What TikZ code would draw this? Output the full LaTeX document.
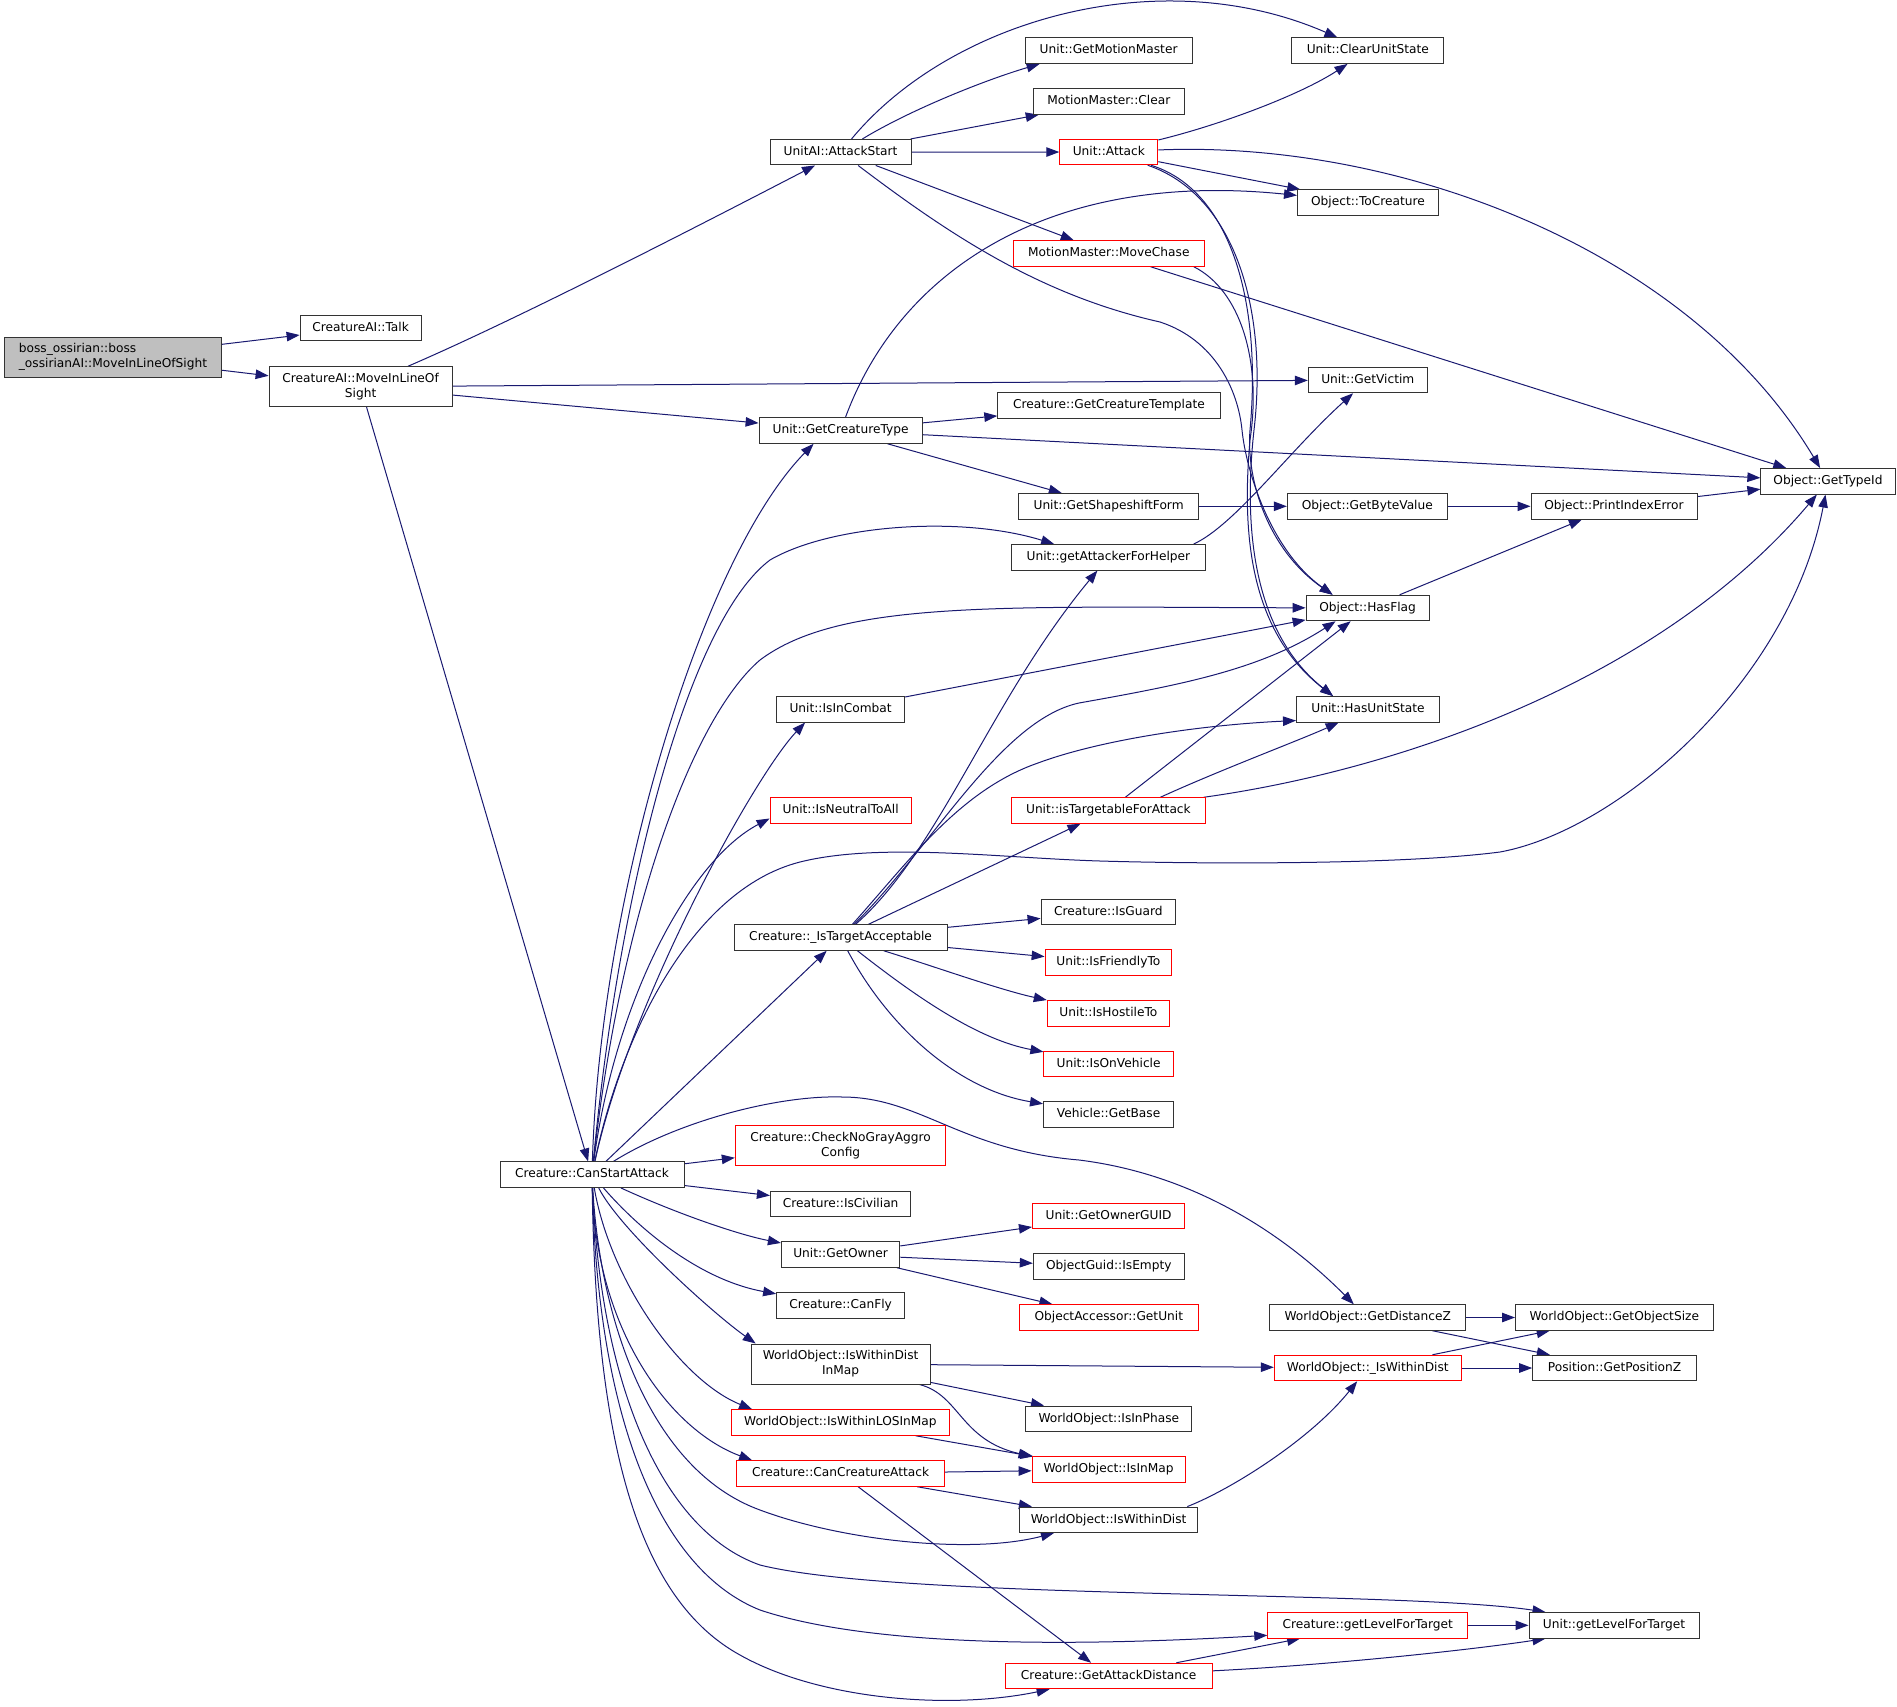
\documentclass[tikz,border=0pt]{standalone}
\usepackage{fontspec}
\setmainfont{DejaVu Sans}
\usetikzlibrary{arrows.meta,calc}
\definecolor{edgec}{HTML}{191970}
\definecolor{bordc}{HTML}{333333}
\definecolor{bossf}{HTML}{BFBFBF}
\pgfdeclarelayer{bg}
\pgfsetlayers{bg,main}
\begin{document}
\begin{tikzpicture}[x=1pt,y=-1pt,
  font=\fontsize{12.2}{15}\selectfont,
  fn/.style={draw=bordc, fill=white, line width=1pt, inner sep=0pt,
    minimum height=25.5pt, text height=9pt, text depth=2.5pt},
  rn/.style={fn, draw=red},
  fm/.style={draw=bordc, fill=white, line width=1pt, inner sep=0pt,
    minimum height=40pt, align=center},
  rm/.style={fm, draw=red},
  cge/.style={draw=edgec, line width=1pt, -{Triangle[length=13pt,width=9.5pt]}}]
\useasboundingbox (0,0) rectangle (1897,1707);

% nodes
\node[fm, fill=bossf, align=left, minimum width=216.3pt] (boss) at (113,357.3) {boss\_ossirian::boss\\\_ossirianAI::MoveInLineOfSight};
\node[fn, minimum width=121pt] (talk) at (360.6,327.8) {CreatureAI::Talk};
\node[fm, minimum width=183pt] (mlos) at (360.6,386.7) {CreatureAI::MoveInLineOf\\Sight};
\node[fn, minimum width=141pt] (uas) at (840.6,152.2) {UnitAI::AttackStart};
\node[fn, minimum width=167pt] (gmm) at (1108.6,50.7) {Unit::GetMotionMaster};
\node[fn, minimum width=151pt] (mmc) at (1108.8,101.5) {MotionMaster::Clear};
\node[rn, minimum width=98pt] (uatt) at (1108.8,152) {Unit::Attack};
\node[rn, minimum width=191pt] (mch) at (1108.8,253.5) {MotionMaster::MoveChase};
\node[fn, minimum width=222.4pt] (gct) at (1109,405.5) {Creature::GetCreatureTemplate};
\node[fn, minimum width=163pt] (gctype) at (840.6,430.5) {Unit::GetCreatureType};
\node[fn, minimum width=152pt] (cus) at (1367.8,50.7) {Unit::ClearUnitState};
\node[fn, minimum width=141pt] (toc) at (1368,202.7) {Object::ToCreature};
\node[fn, minimum width=119pt] (gvic) at (1367.8,380) {Unit::GetVictim};
\node[fn, minimum width=180pt] (gsf) at (1108.6,506.3) {Unit::GetShapeshiftForm};
\node[fn, minimum width=193.5pt] (gafh) at (1108.4,557.3) {Unit::getAttackerForHelper};
\node[fn, minimum width=128pt] (iic) at (840.6,709.3) {Unit::IsInCombat};
\node[rn, minimum width=141pt] (inta) at (840.6,810.5) {Unit::IsNeutralToAll};
\node[rn, minimum width=193.5pt] (itfa) at (1108.4,810.5) {Unit::isTargetableForAttack};
\node[fn, minimum width=134.3pt] (gtid) at (1828,481.3) {Object::GetTypeId};
\node[fn, minimum width=160pt] (gbv) at (1367.3,506.3) {Object::GetByteValue};
\node[fn, minimum width=166pt] (pie) at (1614,506.3) {Object::PrintIndexError};
\node[fn, minimum width=123pt] (hf) at (1367.6,608) {Object::HasFlag};
\node[fn, minimum width=143pt] (hus) at (1368,709.3) {Unit::HasUnitState};
\node[fn, minimum width=213pt] (ita) at (840.6,937.5) {Creature::\_IsTargetAcceptable};
\node[fn, minimum width=134.7pt] (ig) at (1108.4,912) {Creature::IsGuard};
\node[rn, minimum width=126.5pt] (ift) at (1108.4,962.5) {Unit::IsFriendlyTo};
\node[rn, minimum width=122.5pt] (iht) at (1108.4,1013.3) {Unit::IsHostileTo};
\node[rn, minimum width=129.4pt] (iov) at (1108.6,1064) {Unit::IsOnVehicle};
\node[fn, minimum width=130.2pt] (vgb) at (1108.6,1114.7) {Vehicle::GetBase};
\node[rm, minimum width=210.6pt] (cngac) at (840.6,1145.3) {Creature::CheckNoGrayAggro\\Config};
\node[fn, minimum width=184pt] (csa) at (592,1174.7) {Creature::CanStartAttack};
\node[fn, minimum width=140.4pt] (iciv) at (840.6,1203.8) {Creature::IsCivilian};
\node[fn, minimum width=118.4pt] (gown) at (840.6,1254.5) {Unit::GetOwner};
\node[rn, minimum width=152.3pt] (gog) at (1108.6,1216) {Unit::GetOwnerGUID};
\node[fn, minimum width=151pt] (ige) at (1108.8,1266.7) {ObjectGuid::IsEmpty};
\node[fn, minimum width=128pt] (cfly) at (840.6,1305.5) {Creature::CanFly};
\node[rn, minimum width=178.8pt] (oagu) at (1108.8,1317.5) {ObjectAccessor::GetUnit};
\node[fm, minimum width=178.8pt] (iwdim) at (840.6,1364) {WorldObject::IsWithinDist\\InMap};
\node[fn, minimum width=165.7pt] (iip) at (1108.8,1418.8) {WorldObject::IsInPhase};
\node[rn, minimum width=217.6pt] (iwlos) at (840.4,1422.5) {WorldObject::IsWithinLOSInMap};
\node[rn, minimum width=153pt] (iim) at (1108.6,1469.7) {WorldObject::IsInMap};
\node[rn, minimum width=208pt] (cca) at (840.6,1473.5) {Creature::CanCreatureAttack};
\node[fn, minimum width=178.4pt] (iwd) at (1108.6,1519.8) {WorldObject::IsWithinDist};
\node[rn, minimum width=207pt] (gad) at (1108.6,1676) {Creature::GetAttackDistance};
\node[fn, minimum width=196pt] (gdz) at (1367.8,1317.5) {WorldObject::GetDistanceZ};
\node[fn, minimum width=197.6pt] (gos) at (1614.3,1317.5) {WorldObject::GetObjectSize};
\node[rn, minimum width=187pt] (uiwd) at (1367.8,1368) {WorldObject::\_IsWithinDist};
\node[fn, minimum width=163.6pt] (gpz) at (1614.5,1368) {Position::GetPositionZ};
\node[rn, minimum width=200pt] (cglt) at (1367.8,1625.3) {Creature::getLevelForTarget};
\node[fn, minimum width=170pt] (uglt) at (1614,1625.3) {Unit::getLevelForTarget};

\begin{pgfonlayer}{bg}
\draw[cge] (boss) -- (talk);
\draw[cge] (boss) -- (mlos);
\draw[cge] (mlos) .. controls (520,318) and (700,225) .. (uas);
\draw[cge] (mlos) -- (gvic);
\draw[cge] (mlos) -- (gctype);
\draw[cge] (mlos) -- (csa);
% AttackStart
\draw[cge] (uas) .. controls (950,20) and (1160,-40) .. (cus);
\draw[cge] (uas) .. controls (910,110) and (985,80) .. ($(gmm.south west)+(15,0)$);
\draw[cge] (uas) -- (mmc);
\draw[cge] (uas) -- (uatt);
\draw[cge] (uas) -- (mch);
\draw[cge] (uas) .. controls (950,235) and (1040,295) .. (1160,322) .. controls (1215,340) and (1238,390) .. (1242,430) .. controls (1246,470) and (1270,550) .. ($(hf.north west)+(27,0)$);
% Attack
\draw[cge] (uatt) .. controls (1230,190) and (1262,300) .. (1250,430) .. controls (1246,480) and (1268,550) .. ($(hf.north west)+(27,0)$);
\draw[cge] (uatt) .. controls (1235,195) and (1268,310) .. (1254,430) .. controls (1244,520) and (1250,630) .. ($(hus.north west)+(37,0)$);
\draw[cge] (uatt) .. controls (1220,125) and (1300,95) .. (cus);
\draw[cge] (uatt) -- (toc);
\draw[cge] (uatt) .. controls (1400,140) and (1690,250) .. (gtid);
% MoveChase
\draw[cge] ($(mch.south east)+(-11,0)$) .. controls (1240,290) and (1262,360) .. (1250,440) .. controls (1242,530) and (1248,630) .. ($(hus.north west)+(37,0)$);
\draw[cge] (mch) -- (gtid);
% GetCreatureType
\draw[cge] (gctype) .. controls (900,270) and (1050,170) .. (toc);
\draw[cge] (gctype) -- (gct);
\draw[cge] (gctype) -- (gsf);
\draw[cge] (gctype) -- (gtid);
\draw[cge] (gsf) -- (gbv);
\draw[cge] (gbv) -- (pie);
\draw[cge] (pie) -- (gtid);
\draw[cge] (hf) -- (pie);
\draw[cge] ($(gafh.north east)+(-12,0)$) .. controls (1235,525) and (1290,450) .. (gvic);
\draw[cge] (iic) -- (hf);
\draw[cge] (itfa) -- (hf);
\draw[cge] ($(itfa.north)+(52,0)$) .. controls (1220,770) and (1300,740) .. (hus);
\draw[cge] (itfa) .. controls (1400,770) and (1660,680) .. (gtid);
% _IsTargetAcceptable
\draw[cge] (ita) .. controls (940,850) and (990,700) .. (gafh);
\draw[cge] (ita) .. controls (930,850) and (1000,720) .. (1079,703) .. controls (1180,685) and (1260,670) .. ($(hf.south west)+(30,0)$);
\draw[cge] (ita) .. controls (910,860) and (960,790) .. (1038,763) .. controls (1100,740) and (1200,725) .. ($(hus.south west)+(0,-2)$);
\draw[cge] (ita) -- (itfa);
\draw[cge] (ita) -- (ig);
\draw[cge] (ita) -- (ift);
\draw[cge] (ita) .. controls (930,965) and (1000,990) .. (iht);
\draw[cge] (ita) .. controls (920,1000) and (980,1040) .. (iov);
\draw[cge] (ita) .. controls (890,1030) and (960,1090) .. (vgb);
% CanStartAttack
\draw[cge] (csa) .. controls (600,900) and (700,560) .. ($(gctype.south west)+(55,0)$);
\draw[cge] (csa) .. controls (620,880) and (690,620) .. (770,560) .. controls (830,525) and (960,515) .. ($(gafh.north west)+(43,0)$);
\draw[cge] (csa) .. controls (620,920) and (690,720) .. (760,660) .. controls (840,600) and (1000,607) .. (hf);
\draw[cge] (csa) .. controls (630,1000) and (755,775) .. ($(iic.south west)+(29,0)$);
\draw[cge] (csa) .. controls (615,1000) and (690,860) .. ($(inta.west)+(0,8)$);
\draw[cge] (csa) .. controls (620,1040) and (690,890) .. (800,862) .. controls (880,842) and (1000,858) .. (1100,861) .. controls (1200,864) and (1400,865) .. (1500,852) .. controls (1620,830) and (1790,680) .. (gtid);
\draw[cge] (csa) -- (ita);
\draw[cge] (csa) .. controls (680,1120) and (780,1095) .. (842,1097) .. controls (920,1097) and (960,1150) .. (1079,1160) .. controls (1200,1175) and (1290,1240) .. ($(gdz.north)+(-14,0)$);
\draw[cge] (csa) -- (cngac);
\draw[cge] (csa) -- (iciv);
\draw[cge] (csa) .. controls (680,1215) and (740,1235) .. (gown);
\draw[cge] (csa) .. controls (640,1230) and (700,1280) .. (cfly);
\draw[cge] (csa) .. controls (620,1230) and (715,1315) .. ($(iwdim.north west)+(5,0)$);
\draw[cge] (csa) .. controls (610,1280) and (680,1380) .. ($(iwlos.north west)+(21,0)$);
\draw[cge] (csa) .. controls (596,1330) and (670,1430) .. ($(cca.north west)+(16,0)$);
\draw[cge] (csa) .. controls (600,1320) and (650,1470) .. (760,1510) .. controls (840,1540) and (970,1555) .. ($(iwd.south west)+(35,0)$);
\draw[cge] (csa) .. controls (600,1380) and (660,1530) .. (760,1565) .. controls (900,1600) and (1400,1590) .. ($(uglt.north west)+(17,0)$);
\draw[cge] (csa) .. controls (598,1420) and (660,1570) .. (760,1610) .. controls (880,1650) and (1100,1645) .. ($(cglt.west)+(0,10)$);
\draw[cge] (csa) .. controls (596,1450) and (640,1600) .. (740,1655) .. controls (820,1700) and (950,1710) .. ($(gad.south west)+(45,0)$);
% lower part
\draw[cge] (gown) -- (gog);
\draw[cge] (gown) -- (ige);
\draw[cge] (gown) -- (oagu);
\draw[cge] (gdz) -- (gos);
\draw[cge] (gdz) -- (gpz);
\draw[cge] (iwdim) -- (uiwd);
\draw[cge] (iwdim) -- (iip);
\draw[cge] (iwdim) .. controls (960,1395) and (960,1440) .. (iim.north west);
\draw[cge] (uiwd) -- (gos);
\draw[cge] (uiwd) -- (gpz);
\draw[cge] (iwlos) -- (iim);
\draw[cge] (cca) -- (iim);
\draw[cge] (cca) -- (iwd);
\draw[cge] (cca) -- (gad);
\draw[cge] ($(iwd.north east)+(-11,0)$) .. controls (1230,1490) and (1310,1440) .. (uiwd);
\draw[cge] (cglt) -- (uglt);
\draw[cge] (gad) -- (cglt);
\draw[cge] (gad) .. controls (1330,1665) and (1470,1650) .. ($(uglt.south west)+(17,0)$);
\end{pgfonlayer}
\end{tikzpicture}
\end{document}
